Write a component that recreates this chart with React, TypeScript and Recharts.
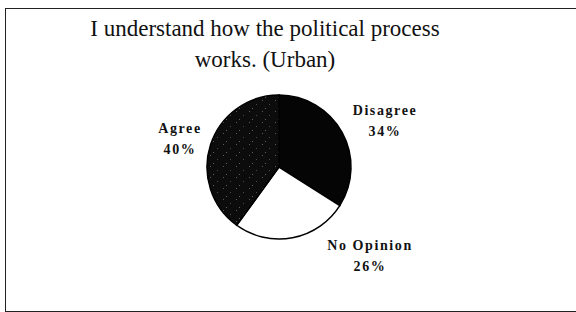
import React from 'react';
import { PieChart, Pie, Cell } from 'recharts';

const categories = ['Disagree', 'No Opinion', 'Agree'];
const shares = [34, 26, 40];
const titleLines = ['I understand how the political process', 'works. (Urban)'];

const fills = ['#050505', '#ffffff', 'url(#speckle)'];
// where each label sits relative to the pie centre
const labelOffsets: Record<string, { dx: number; dy: number }> = {
  Disagree: { dx: 106, dy: -52 },
  'No Opinion': { dx: 91, dy: 83 },
  Agree: { dx: -99, dy: -34 },
};

const data = categories.map((name, i) => ({ name, value: shares[i] }));

const renderLabel = (props: any) => {
  const { cx, cy, name, value } = props;
  const off = labelOffsets[name];
  const x = cx + off.dx;
  const y = cy + off.dy;
  return (
    <text
      x={x}
      y={y}
      textAnchor="middle"
      fontFamily="'Liberation Serif', serif"
      fontWeight="bold"
      fontSize={14}
      letterSpacing={1.6}
      fill="#111"
    >
      <tspan x={x} dy={0}>{name}</tspan>
      <tspan x={x} dy={21}>{value}%</tspan>
    </text>
  );
};

const App: React.FC = () => {
  return (
    <div style={{ position: 'absolute', left: 0, top: 0, width: 576, height: 312, background: '#fff', overflow: 'hidden' }}>
      <svg width={0} height={0} style={{ position: 'absolute' }}>
        <defs>
          <pattern id="speckle" width={13} height={11} patternUnits="userSpaceOnUse">
            <rect width={13} height={11} fill="#0c0c0c" />
            <rect x={2} y={1} width={1} height={1} fill="#5a5a5a" />
            <rect x={9} y={5} width={1} height={1} fill="#4a4a4a" />
            <rect x={5} y={9} width={1} height={1} fill="#606060" />
          </pattern>
        </defs>
      </svg>
      <div
        style={{
          position: 'absolute',
          left: 5,
          top: 8,
          width: 600,
          height: 302,
          borderLeft: '1.5px solid #222',
          borderTop: '1.5px solid #222',
          borderBottom: '1.5px solid #222',
        }}
      />
      <div
        style={{
          position: 'absolute',
          left: 0,
          top: 13,
          width: 530,
          textAlign: 'center',
          fontFamily: "'Liberation Serif', serif",
          fontSize: 23,
          lineHeight: '31px',
          color: '#111',
        }}
      >
        {titleLines.map((t) => (
          <div key={t}>{t}</div>
        ))}
      </div>
      <div style={{ position: 'absolute', left: 0, top: 0 }}>
        <PieChart width={576} height={312} margin={{ top: 0, right: 0, bottom: 0, left: 0 }}>
          <Pie
            data={data}
            dataKey="value"
            nameKey="name"
            cx={279}
            cy={167}
            outerRadius={72}
            startAngle={90}
            endAngle={-270}
            stroke="#000"
            strokeWidth={1.5}
            label={renderLabel}
            labelLine={false}
            isAnimationActive={false}
          >
            {data.map((d, i) => (
              <Cell key={d.name} fill={fills[i]} />
            ))}
          </Pie>
        </PieChart>
      </div>
    </div>
  );
};

export default App;
